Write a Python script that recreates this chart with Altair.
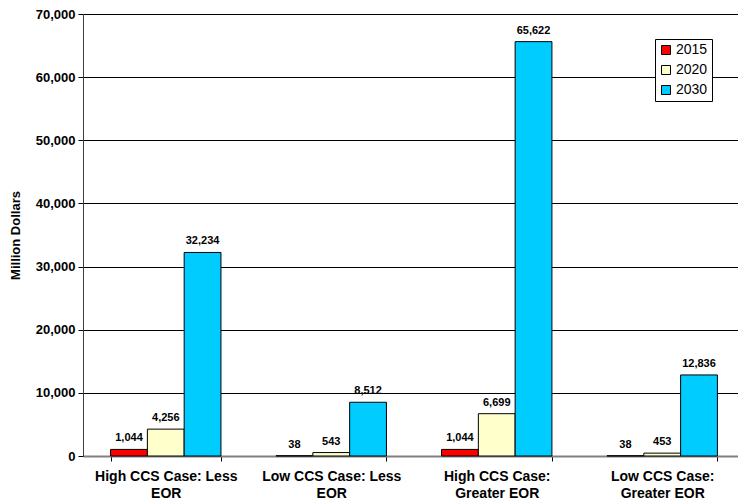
import altair as alt
import pandas as pd

categories = ["High CCS Case: Less\nEOR", "Low CCS Case: Less\nEOR",
              "High CCS Case:\nGreater EOR", "Low CCS Case:\nGreater EOR"]
years = ["2015", "2020", "2030"]
v2015 = [1044, 38, 1044, 38]
v2020 = [4256, 543, 6699, 453]
v2030 = [32234, 8512, 65622, 12836]
colors = ["#FF0000", "#FFFFCC", "#00CCFF"]

rows = []
for yr, vals in zip(years, [v2015, v2020, v2030]):
    for c, v in zip(categories, vals):
        rows.append({"cat": c, "year": yr, "value": v})
df = pd.DataFrame(rows)

FONT = "Liberation Sans"

x = alt.X("cat:N", sort=categories, title=None,
          scale=alt.Scale(range=[0, 662], paddingInner=0.333, paddingOuter=0.1667),
          axis=alt.Axis(labelExpr="split(datum.label, '\\n')", labelAngle=0,
                        labelFont=FONT, labelFontSize=14, labelFontWeight="bold",
                        labelColor="black", labelLineHeight=17, labelPadding=8,
                        tickBand="extent", tickSize=5, tickColor="black",
                        domainColor="#808080", domainWidth=2, grid=False,
                        labelBaseline="top"))
xo = alt.XOffset("year:N", sort=years, scale=alt.Scale(paddingInner=0, paddingOuter=0))
y = alt.Y("value:Q", title="Million Dollars",
          scale=alt.Scale(domain=[0, 70000], nice=False),
          axis=alt.Axis(values=list(range(0, 70001, 10000)), format=",.0f",
                        labelFont=FONT, labelFontSize=13, labelFontWeight="bold",
                        labelColor="black", labelPadding=3, tickSize=5,
                        tickColor="black", domainColor="#404040",
                        gridColor="black", gridWidth=1,
                        titleFont=FONT, titleFontSize=13, titleFontWeight="bold",
                        titleColor="black", titleX=-68, titleY=221,
                        titleAlign="center", titleBaseline="middle"))

bars = alt.Chart(df).mark_bar(stroke="black", strokeWidth=1).encode(
    x=x, xOffset=xo, y=y,
    color=alt.Color("year:N", sort=years,
                    scale=alt.Scale(domain=years, range=colors),
                    legend=alt.Legend(title=None, orient="none", legendX=572, legendY=25,
                                      symbolType="square", symbolSize=81,
                                      symbolStrokeColor="black", symbolStrokeWidth=1,
                                      labelFont=FONT, labelFontSize=14, labelColor="black",
                                      labelOffset=3, rowPadding=6, padding=4,
                                      fillColor="white", strokeColor="black")),
)

labels = alt.Chart(df).mark_text(baseline="bottom", dy=-6, font=FONT, fontSize=11,
                                 fontWeight="bold", color="black").encode(
    x=x, xOffset=xo, y=y, text=alt.Text("value:Q", format=",.0f"))

chart = (bars + labels).properties(
    width=655, height=442,
    autosize=alt.AutoSizeParams(type="none"),
    padding={"left": 83, "top": 14, "right": 0, "bottom": 46},
).configure_view(stroke=None).configure(background="white")

chart.save("out.html", embed_options={"renderer": "svg", "actions": False})
